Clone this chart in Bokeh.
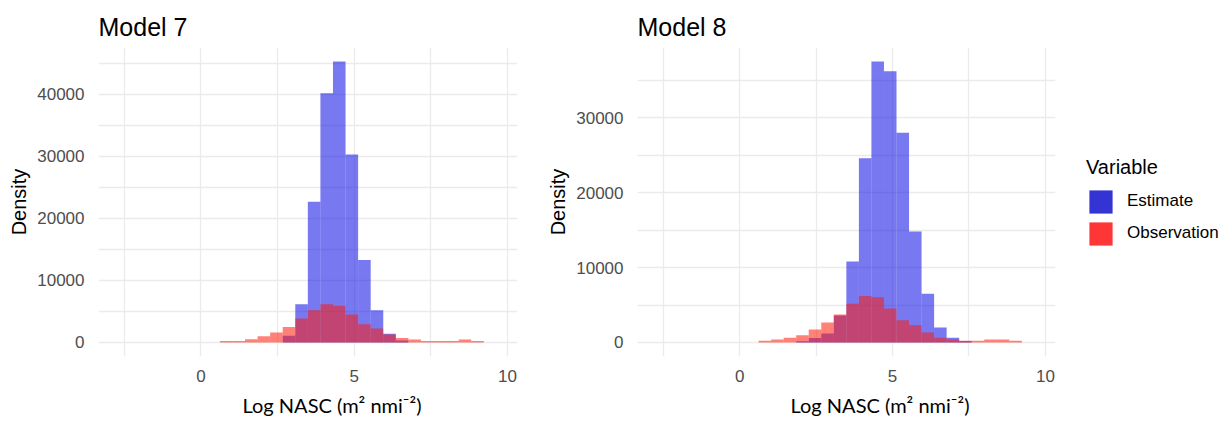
from bokeh.plotting import figure
from bokeh.layouts import row
from bokeh.models import FixedTicker, Range1d, Title, Legend, LegendItem
from bokeh.embed import file_html
from bokeh.resources import INLINE

# Histogram bin edges shared by both models (log NASC)
bin_edges = [0.62, 1.03, 1.44, 1.85, 2.26, 2.67, 3.08, 3.49, 3.90, 4.31, 4.72,
             5.13, 5.54, 5.95, 6.36, 6.77, 7.18, 7.59, 8.00, 8.41, 8.82, 9.23]

# Model 7 densities per bin
estimate_m7 = [0, 0, 0, 0, 0, 1100, 6150, 22700, 40200, 45300, 30300,
               13300, 5190, 1390, 300, 0, 0, 0, 0, 0, 0]
observation_m7 = [220, 220, 500, 1010, 1600, 2500, 3850, 5200, 6150, 5900, 4520,
                  2930, 2250, 1280, 700, 480, 220, 220, 220, 480, 220]

# Model 8 densities per bin
estimate_m8 = [0, 0, 0, 150, 600, 1200, 3600, 10800, 24600, 37500, 36200,
               28000, 14800, 6500, 2000, 620, 200, 0, 0, 0, 0]
observation_m8 = [220, 400, 620, 970, 1730, 2660, 3720, 5180, 6200, 6020, 4520,
                  2970, 2300, 1330, 620, 400, 220, 220, 400, 400, 220]

panel_titles = ["Model 7", "Model 8"]
series_names = ["Estimate", "Observation"]
legend_title = "Variable"
x_title = "Log NASC (m\u00b2 nmi\u207b\u00b2)"
y_title = "Density"
x_major = [0, 5, 10]
x_minor = [-2.5, 2.5, 7.5]
y_major_m7 = [0, 10000, 20000, 30000, 40000]
y_minor_m7 = [5000, 15000, 25000, 35000, 45000]
y_major_m8 = [0, 10000, 20000, 30000]
y_minor_m8 = [5000, 15000, 25000, 35000]

bar_colors = ["#0A0AE6", "#FF1A0A"]
key_colors = ["#3434D4", "#FF3636"]
grid_color = "#EBEBEB"
tick_color = "#4D4D4D"
sans = "Liberation Sans"


def build_panel(name, estimate, observation, y_major, y_minor, width,
                border_left, border_right, label_standoff, xtitle_offset):
    top = max(max(estimate), max(observation))
    p = figure(width=width, height=422,
               x_range=Range1d(-3.34, 10.33),
               y_range=Range1d(-0.05 * top, 1.05 * top),
               output_backend="svg", toolbar_location=None,
               min_border_left=border_left, min_border_right=border_right,
               min_border_top=47, min_border_bottom=65,
               background_fill_color="white", border_fill_color="white")
    p.outline_line_color = None

    lefts = bin_edges[:-1]
    rights = bin_edges[1:]
    for values, color in ((estimate, bar_colors[0]), (observation, bar_colors[1])):
        idx = [i for i, v in enumerate(values) if v > 0]
        p.quad(left=[lefts[i] for i in idx], right=[rights[i] for i in idx],
               bottom=0, top=[values[i] for i in idx],
               fill_color=color, fill_alpha=0.55, line_color=None)

    # panel title
    p.title.text = name
    p.title.align = "left"
    p.title.text_font = sans
    p.title.text_font_size = "25px"
    p.title.text_font_style = "normal"
    p.title.text_color = "black"
    p.title.standoff = 14

    # axes
    p.xaxis.ticker = FixedTicker(ticks=x_major, minor_ticks=x_minor)
    p.yaxis.ticker = FixedTicker(ticks=y_major, minor_ticks=y_minor)
    for ax in (p.xaxis[0], p.yaxis[0]):
        ax.axis_line_color = None
        ax.major_tick_line_color = None
        ax.minor_tick_line_color = None
        ax.major_label_text_font = sans
        ax.major_label_text_font_size = "17px"
        ax.major_label_text_color = tick_color
    p.xaxis.major_label_standoff = 7
    p.yaxis.major_label_standoff = 8
    p.yaxis.axis_label = y_title
    p.yaxis.axis_label_text_font = sans
    p.yaxis.axis_label_text_font_size = "20px"
    p.yaxis.axis_label_text_font_style = "normal"
    p.yaxis.axis_label_text_color = "black"
    p.yaxis.axis_label_standoff = label_standoff

    # grid
    for g in (p.xgrid[0], p.ygrid[0]):
        g.grid_line_color = grid_color
        g.grid_line_width = 1.3
        g.minor_grid_line_color = grid_color
        g.minor_grid_line_width = 1.3

    # x-axis title
    p.add_layout(Title(text=x_title, align="left", offset=xtitle_offset,
                       text_font="Lato", text_font_size="20px",
                       text_font_style="normal", text_color="black",
                       standoff=12), "below")
    return p


p7 = build_panel(panel_titles[0], estimate_m7, observation_m7, y_major_m7, y_minor_m7,
                 540, 98, 23, 4, 144)
p8 = build_panel(panel_titles[1], estimate_m8, observation_m8, y_major_m8, y_minor_m8,
                 520, 97, 5, 4, 153)

# legend panel: swatches are kept outside the visible range, only the keys show
pl = figure(width=169, height=422, x_range=Range1d(0, 1), y_range=Range1d(0, 1),
            output_backend="svg", toolbar_location=None,
            x_axis_location=None, y_axis_location=None,
            min_border_left=0, min_border_right=0, min_border_top=0, min_border_bottom=18,
            background_fill_color="white", border_fill_color="white")
pl.outline_line_color = None
pl.grid.visible = False
key_est = pl.quad(left=[2], right=[3], top=[3], bottom=[2], fill_color=key_colors[0], line_color=None)
key_obs = pl.quad(left=[2], right=[3], top=[3], bottom=[2], fill_color=key_colors[1], line_color=None)
legend = Legend(items=[LegendItem(label=series_names[0], renderers=[key_est]),
                       LegendItem(label=series_names[1], renderers=[key_obs])],
                title=legend_title, location="center_left",
                margin=26, padding=2, glyph_width=29, glyph_height=29,
                label_standoff=12, spacing=3, title_standoff=8,
                label_text_font=sans, label_text_font_size="17px",
                label_text_color="black",
                title_text_font=sans, title_text_font_size="20px",
                title_text_font_style="normal", title_text_color="black",
                border_line_color=None, background_fill_alpha=0)
pl.add_layout(legend, "center")

layout = row(p7, p8, pl)
open("out.html", "w").write(file_html(layout, INLINE))
